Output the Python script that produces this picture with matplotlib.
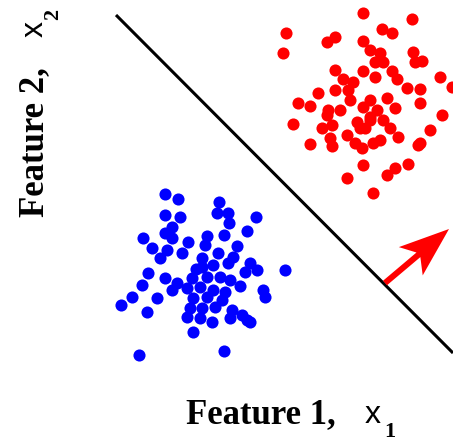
import matplotlib
matplotlib.use("Agg")
import matplotlib.pyplot as plt

W, H = 453, 446

# Class 1 (blue) samples: feature 1, feature 2
blue_x = [165, 178, 219, 165, 180, 217, 228, 229, 256, 172, 165, 172, 143, 207, 224,
          247, 188, 152, 167, 160, 182, 205, 218, 237, 233, 202, 250, 285, 148, 245,
          257, 202, 213, 228, 165, 177, 142, 172, 132, 157, 121, 147, 263, 265, 192,
          207, 220, 230, 187, 200, 213, 225, 193, 207, 222, 190, 202, 215, 232, 242,
          187, 200, 212, 230, 247, 193, 139, 224, 250, 196, 240]
blue_y = [252, 247, 244, 231, 229, 233, 233, 223, 229, 219, 213, 208, 208, 210, 211,
          215, 204, 198, 196, 188, 193, 201, 193, 200, 189, 188, 183, 176, 173, 174,
          176, 179, 181, 183, 168, 163, 161, 156, 149, 148, 141, 134, 156, 149, 168,
          169, 169, 166, 158, 159, 156, 154, 148, 149, 146, 138, 138, 139, 136, 131,
          129, 128, 124, 128, 126, 114, 91, 95, 124, 177, 160]

# Class 2 (red) samples: feature 1, feature 2
red_x = [363, 412, 286, 382, 392, 327, 335, 283, 363, 370, 380, 375, 383, 413, 415,
         422, 335, 363, 375, 392, 397, 440, 452, 343, 353, 407, 420, 318, 335, 348,
         298, 310, 350, 370, 387, 420, 328, 340, 363, 377, 395, 327, 293, 442, 357,
         370, 383, 322, 332, 360, 390, 430, 347, 330, 398, 310, 332, 355, 362, 373,
         380, 420, 418, 363, 408, 395, 387, 347, 373, 370, 365]
red_y = [433, 427, 413, 417, 413, 404, 409, 393, 405, 396, 393, 384, 384, 394, 384,
         385, 376, 375, 369, 375, 367, 369, 359, 367, 364, 358, 357, 353, 356, 356,
         343, 340, 346, 346, 348, 343, 336, 336, 339, 336, 338, 331, 322, 331, 324,
         326, 326, 318, 321, 318, 318, 316, 311, 308, 309, 302, 300, 303, 298, 303,
         306, 303, 301, 281, 282, 278, 271, 268, 253, 329, 318]

# Decision boundary end points and normal-vector arrow
boundary_x = [116, 453]
boundary_y = [431, 93]
arrow_start = (385, 163)
arrow_end = (449, 217)

fig = plt.figure(figsize=(W / 100, H / 100), dpi=100)
ax = fig.add_axes([0, 0, 1, 1])
ax.set_xlim(0, W)
ax.set_ylim(0, H)
ax.axis("off")

ms = 76
ax.scatter(blue_x, blue_y, s=ms, color="#0000ff", linewidths=0, zorder=2)
ax.scatter(red_x, red_y, s=ms, color="#ff0000", linewidths=0, zorder=2)

ax.plot(boundary_x, boundary_y, color="black", lw=2.2, solid_capstyle="butt", zorder=3)

dx = arrow_end[0] - arrow_start[0]
dy = arrow_end[1] - arrow_start[1]
ax.arrow(arrow_start[0], arrow_start[1], dx, dy, width=6, head_width=37,
         head_length=50, overhang=0.2, length_includes_head=True,
         color="#ff0000", lw=0, zorder=4)

serif = dict(family="Liberation Serif", weight="bold", color="black")
sans = dict(family="Liberation Sans", weight="normal", color="black")

# Horizontal axis label
ax.text(186, 23, "Feature 1,", fontsize=25, ha="left", va="baseline", **serif)
ax.text(365, 23, "x", fontsize=23, ha="left", va="baseline", **sans)
ax.text(384, 9, "1", fontsize=16, ha="left", va="baseline", **serif)

# Vertical axis label
ax.text(43, 229, "Feature 2,", fontsize=25, rotation=90, ha="left", va="baseline",
        rotation_mode="anchor", **serif)
ax.text(43, 409, "x", fontsize=23, rotation=90, ha="left", va="baseline",
        rotation_mode="anchor", **sans)
ax.text(58, 426, "2", fontsize=16, rotation=90, ha="left", va="baseline",
        rotation_mode="anchor", **serif)

fig.savefig("out.png", dpi=100)
